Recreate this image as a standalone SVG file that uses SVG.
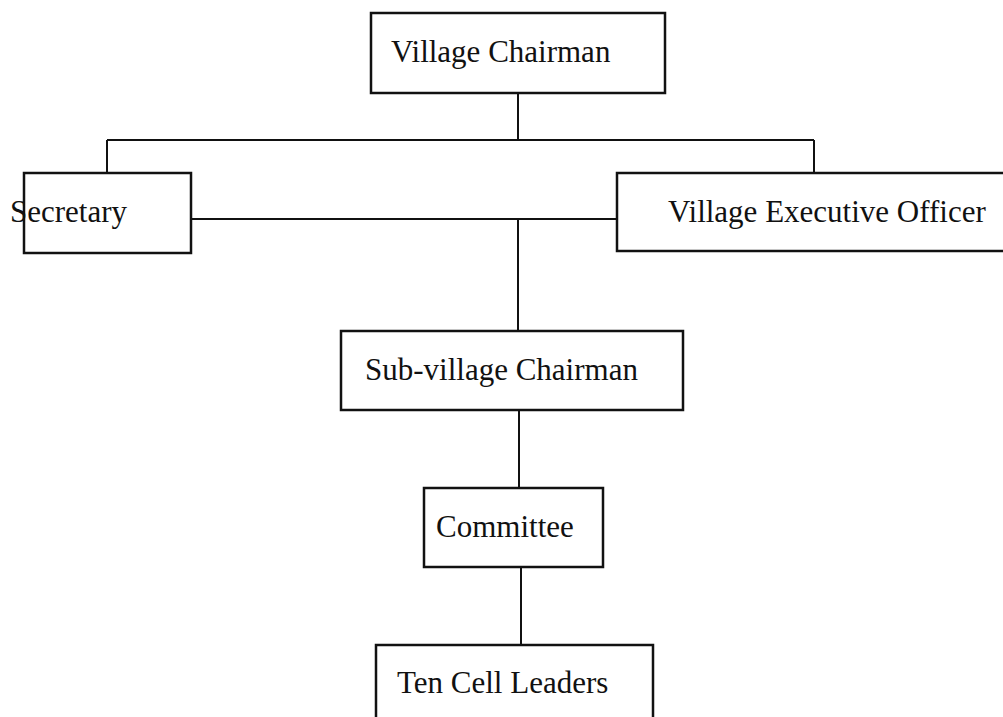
<svg xmlns="http://www.w3.org/2000/svg" width="1003" height="717" viewBox="0 0 1003 717">
<style>
.box{fill:#fff;stroke:#111;stroke-width:2.5}
.lbl{font-family:"Liberation Serif","Times New Roman",serif;font-size:31px;fill:#111}
.conn{fill:none;stroke:#111;stroke-width:2}
</style>
<rect width="1003" height="717" fill="#fff"/>
<g id="connectors">
<path class="conn" d="M518 93V140M107 140H814M107 140V173M814 140V173"/>
<path class="conn" d="M191 219H617M518 219V331"/>
<path class="conn" d="M519 410V488"/>
<path class="conn" d="M521 567V645"/>
</g>
<g id="village-chairman">
<rect class="box" x="371" y="13" width="294" height="80"/>
<text class="lbl" x="391" y="62">Village Chairman</text>
</g>
<g id="secretary">
<rect class="box" x="24" y="173" width="167" height="80"/>
<text class="lbl" x="10" y="222">Secretary</text>
</g>
<g id="village-executive-officer">
<rect class="box" x="617" y="173" width="400" height="78"/>
<text class="lbl" x="668" y="222">Village Executive Officer</text>
</g>
<g id="sub-village-chairman">
<rect class="box" x="341" y="331" width="342" height="79"/>
<text class="lbl" x="365" y="380">Sub-village Chairman</text>
</g>
<g id="committee">
<rect class="box" x="424" y="488" width="179" height="79"/>
<text class="lbl" x="436" y="537">Committee</text>
</g>
<g id="ten-cell-leaders">
<rect class="box" x="376" y="645" width="277" height="90"/>
<text class="lbl" x="397" y="693">Ten Cell Leaders</text>
</g>
</svg>
